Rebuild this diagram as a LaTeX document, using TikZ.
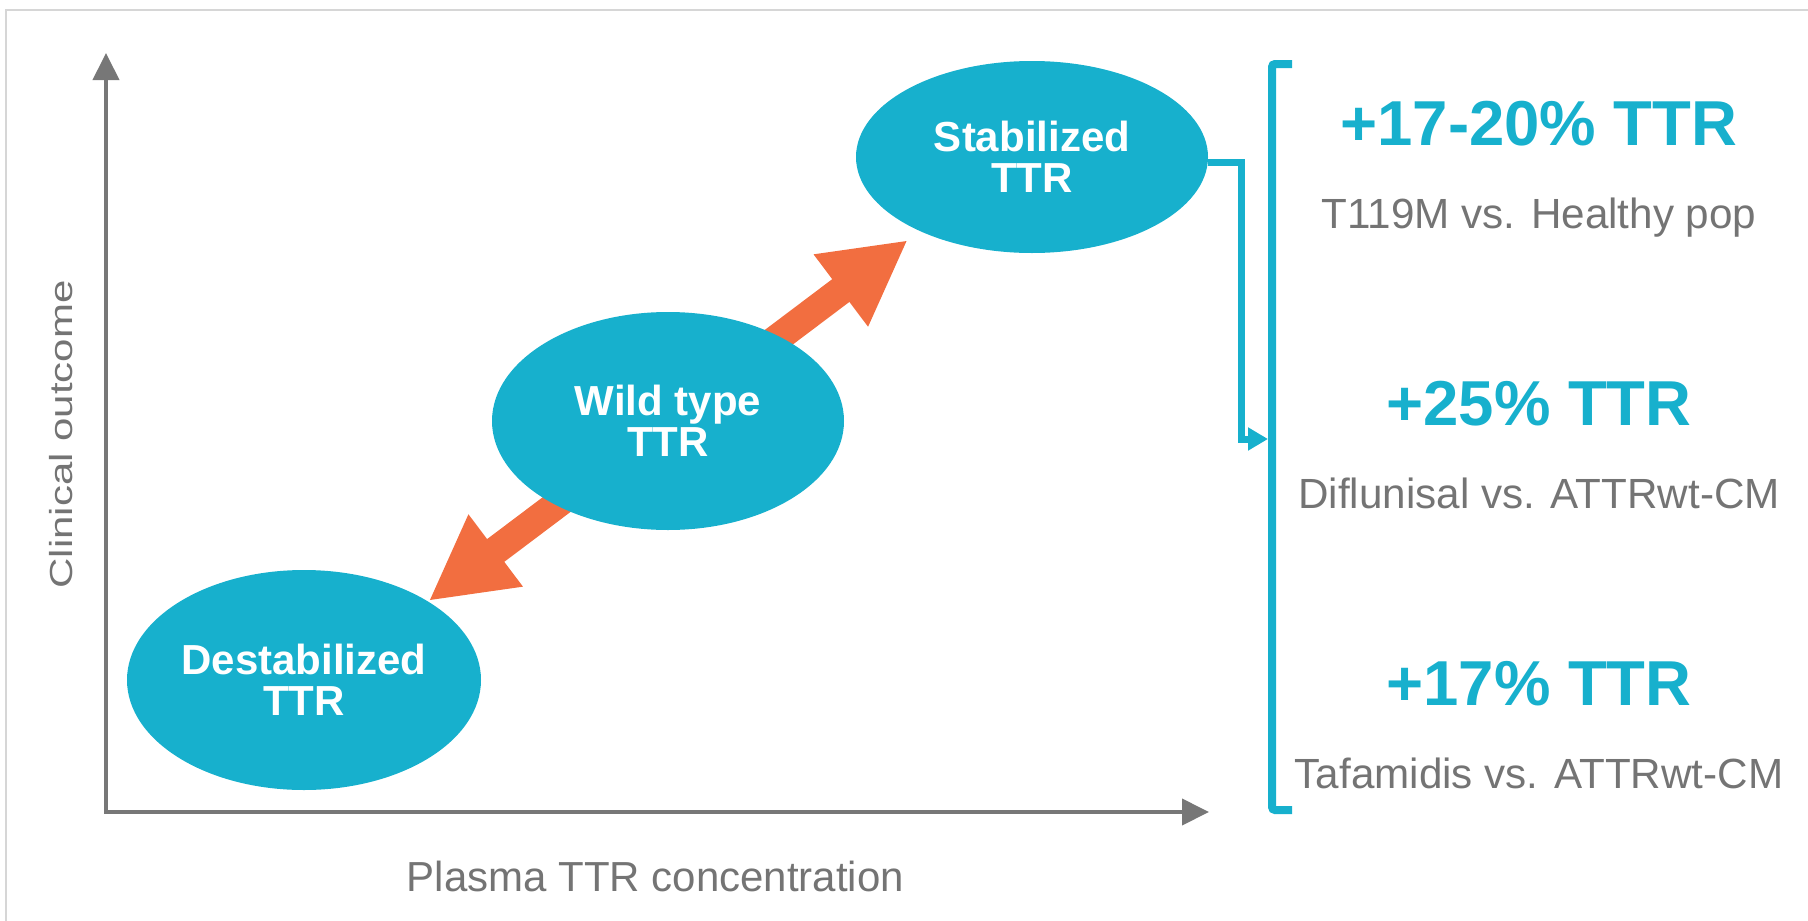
\documentclass[tikz,border=0pt]{standalone}
\usepackage{fontspec}
\setmainfont{Liberation Sans}
\usetikzlibrary{shapes.geometric,arrows.meta}

\definecolor{ttrteal}{HTML}{17B0CD}
\definecolor{ttrorange}{HTML}{F26E40}
\definecolor{axisgray}{HTML}{777777}
\definecolor{textgray}{HTML}{747474}
\definecolor{framegray}{HTML}{D6D6D6}

\tikzset{
  blob/.style={ellipse, fill=ttrteal, draw=none, inner sep=0pt, align=center,
    text=white, font=\fontsize{42}{41}\selectfont\bfseries},
  axisline/.style={draw=axisgray, line width=4pt,
    {Triangle[length=27pt,width=26pt]}-{Triangle[length=27pt,width=26pt]}},
  shiftarrow/.style={draw=ttrorange, line width=28.5pt,
    {Triangle[length=84pt,width=84pt]}-{Triangle[length=84pt,width=84pt]}},
  elbowarrow/.style={draw=ttrteal, line width=7pt,
    -{Triangle[length=20pt,width=22pt]}},
  bracketline/.style={draw=ttrteal, line width=8pt, rounded corners=3pt},
  headline/.style={anchor=base, text=ttrteal, inner sep=0pt,
    font=\fontsize{63.5}{70}\selectfont\bfseries},
  subline/.style={anchor=base, text=textgray, inner sep=0pt,
    font=\fontsize{42.2}{48}\selectfont},
  axislabel/.style={anchor=base, text=textgray, inner sep=0pt,
    font=\fontsize{42}{48}\selectfont},
}

\begin{document}
\begin{tikzpicture}[x=1pt, y=-1pt]
  \useasboundingbox (0,0) rectangle (1808,921);

  % light frame along the top and left edges
  \draw[framegray, line width=2pt] (1808,10) -- (6,10) -- (6,921);

  % axes
  \coordinate (ytop) at (106,53);
  \coordinate (origin) at (106,812);
  \coordinate (xend) at (1209,812);
  \draw[axisline] (ytop) -- (origin) -- (xend);

  \node[axislabel, rotate=90] (ylab) at (72,434.5)
    {\scalebox{1}[0.76]{Clinical outcome}};
  \node[axislabel] (xlab) at (655.5,891) {Plasma TTR concentration};

  % double arrow running behind the wild type ellipse
  \coordinate (downtip) at (428.6,601);
  \coordinate (uptip) at (907.9,240);
  \draw[shiftarrow] (downtip) -- (uptip);

  % TTR states
  \node[blob, minimum width=352pt, minimum height=192pt] (stab) at (1032,157)
    {Stabilized\\TTR};
  \node[blob, minimum width=352pt, minimum height=218pt] (wild) at (668,421)
    {Wild type\\TTR};
  \node[blob, minimum width=354pt, minimum height=220pt] (destab) at (304,680)
    {Destabilized\\TTR};

  % bracket grouping the results
  \draw[bracketline] (1292,64) -- (1272,64) -- (1272,810) -- (1292,810);
  \coordinate (brk) at (1268,439);
  \draw[elbowarrow] ([yshift=-5pt]stab.east) -- ++(33,0) |- (brk);

  % results
  \node[headline] (h1) at (1539,145) {+17-20\% TTR};
  \node[subline]  (s1) at (1539,228) {T119M vs. Healthy pop};
  \node[headline] (h2) at (1539,425) {+25\% TTR};
  \node[subline]  (s2) at (1539,508) {Diflunisal vs. ATTRwt-CM};
  \node[headline] (h3) at (1539,705) {+17\% TTR};
  \node[subline]  (s3) at (1539,788) {Tafamidis vs. ATTRwt-CM};
\end{tikzpicture}
\end{document}
